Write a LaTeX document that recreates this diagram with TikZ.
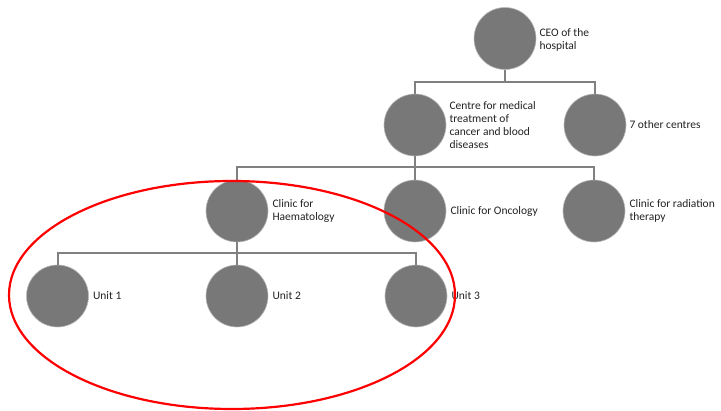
\documentclass[tikz,border=0pt]{standalone}
\usepackage{fontspec}
\setmainfont{Carlito}
\definecolor{discgray}{HTML}{787878}
\definecolor{rimgray}{HTML}{B8B8B8}
\definecolor{linegray}{HTML}{808080}
\definecolor{txtgray}{HTML}{222222}
\definecolor{ringred}{HTML}{FF0000}
\begin{document}
\begin{tikzpicture}[x=1pt,y=-1pt,
  disc/.style={circle,minimum size=62pt,inner sep=0pt,fill=discgray,draw=rimgray,line width=0.6pt},
  lbl/.style={anchor=west,inner sep=0pt,align=left,text=txtgray,font=\fontsize{11.5}{13}\selectfont},
  conn/.style={draw=linegray,line width=2pt},
  ring/.style={draw=ringred,line width=2.2pt}]
\useasboundingbox (0,0) rectangle (721,411);
% discs
\node[disc] (ceo) at (505,38.5) {};
\node[disc] (centre) at (415,125) {};
\node[disc] (other) at (595,125) {};
\node[disc] (haem) at (237,211) {};
\node[disc] (onc) at (415,211) {};
\node[disc] (rad) at (594,211) {};
\node[disc] (u1) at (57.5,296) {};
\node[disc] (u2) at (237,296) {};
\node[disc] (u3) at (416,296) {};
% labels
\node[lbl] (tceo) at ([xshift=3pt,yshift=-1pt]ceo.east) {CEO of the\\hospital};
\node[lbl] (tcentre) at ([xshift=3pt]centre.east) {Centre for medical\\treatment of\\cancer and blood\\diseases};
\node[lbl] (tother) at ([xshift=3pt]other.east) {7 other centres};
\node[lbl] (thaem) at ([xshift=4pt]haem.east) {Clinic for\\Haematology};
\node[lbl] (tonc) at ([xshift=4pt]onc.east) {Clinic for Oncology};
\node[lbl] (trad) at ([xshift=4pt]rad.east) {Clinic for radiation\\therapy};
\node[lbl] (tu1) at ([xshift=4pt]u1.east) {Unit 1};
\node[lbl] (tu2) at ([xshift=4pt]u2.east) {Unit 2};
\node[lbl] (tu3) at ([xshift=4pt]u3.east) {Unit 3};
% connectors
\coordinate (b1) at (505,82);
\coordinate (b2) at (415,167);
\coordinate (b3) at (237,253);
\path[conn] (ceo.south) -- (b1);
\path[conn] (centre.north) |- (b1) -| (other.north);
\path[conn] (centre.south) -- (b2);
\path[conn] (haem.north) |- (b2) -| (rad.north);
\path[conn] (b2) -- (onc.north);
\path[conn] (haem.south) -- (b3);
\path[conn] (u1.north) |- (b3) -| (u3.north);
\path[conn] (b3) -- (u2.north);
% highlight ring
\draw[ring] (232,295) ellipse [x radius=223pt, y radius=114pt];
\end{tikzpicture}
\end{document}
